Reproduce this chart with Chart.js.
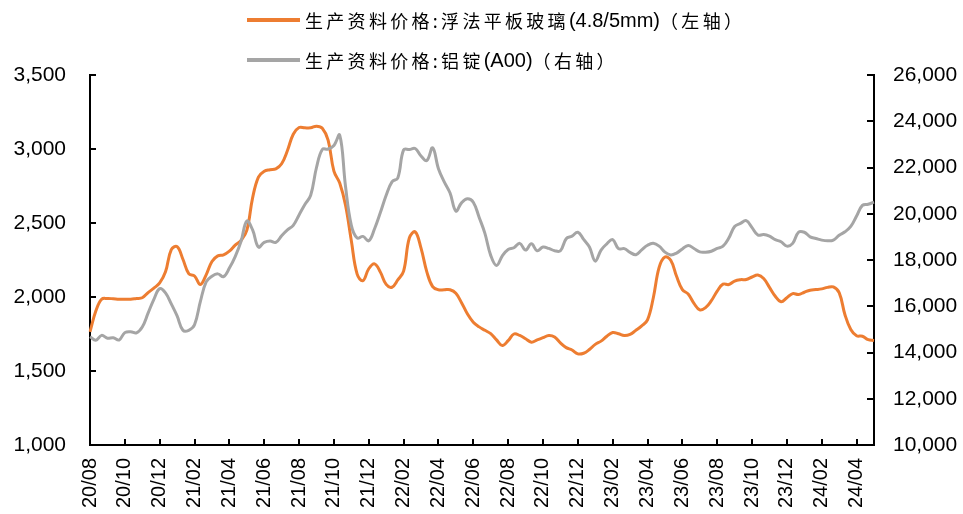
<!DOCTYPE html>
<html>
<head>
<meta charset="utf-8">
<title>浮法平板玻璃与铝锭价格</title>
<script src="https://cdn.jsdelivr.net/npm/chart.js@4.4.1/dist/chart.umd.min.js"></script>
<style>
  body { margin: 0; background: #fff; }
  #wrap { position: relative; width: 963px; height: 514px; }
  .legend-row { position: absolute; left: 247px; height: 24px; display: flex; align-items: center; white-space: nowrap; color: #000; }
  .legend-row .swatch { width: 53px; height: 4px; margin-right: 5px; }
  .cjk { font-family: "Noto Sans CJK SC"; font-size: 18px; letter-spacing: 3.3px; }
  .lat { font-family: "Liberation Sans", Arial, sans-serif; font-size: 20px; }
</style>
</head>
<body>
<div id="wrap">
  <canvas id="myChart"></canvas>
  <div class="legend-row" style="top: 8px;">
    <span class="swatch" style="background:#ED7D31"></span>
    <span class="cjk">生产资料价格:浮法平板玻璃</span><span class="lat">(4.8/5mm)</span><span class="cjk">（左轴）</span>
  </div>
  <div class="legend-row" style="top: 48px;">
    <span class="swatch" style="background:#A5A5A5"></span>
    <span class="cjk">生产资料价格:铝锭</span><span class="lat">(A00)</span><span class="cjk">（右轴）</span>
  </div>
</div>
<script>
// ten-day periods (上旬/中旬/下旬), 2020-08上旬 .. 2024-05上旬
var xunNames = ['上旬', '中旬', '下旬'];
var lastPeriod = '2024-05上旬';
var periods = [];
(function () {
  var y = 2020, m = 8;
  while (true) {
    for (var k = 0; k < 3; k++) {
      var p = y + '-' + (m < 10 ? '0' + m : m) + xunNames[k];
      periods.push(p);
      if (p === lastPeriod) return;
    }
    m++;
    if (m > 12) { m = 1; y++; }
  }
})();

// x axis labels shown (every two months)
var monthTickLabels = ['20/08', '20/10', '20/12', '21/02', '21/04', '21/06', '21/08', '21/10', '21/12',
  '22/02', '22/04', '22/06', '22/08', '22/10', '22/12', '23/02', '23/04', '23/06', '23/08',
  '23/10', '23/12', '24/02', '24/04'];

var leftTicks = [1000, 1500, 2000, 2500, 3000, 3500];
var rightTicks = [10000, 12000, 14000, 16000, 18000, 20000, 22000, 24000, 26000];

// 生产资料价格:浮法平板玻璃(4.8/5mm), 元/吨 (left axis)
var glassPrice = [
  1765, 1905, 1985, 1990, 1988, 1985, 1985, 1985, 1990, 1995,
  2030, 2060, 2095, 2170, 2320, 2340, 2255, 2158, 2142, 2084,
  2150, 2240, 2278, 2285, 2310, 2350, 2382, 2450, 2670, 2810,
  2850, 2860, 2866, 2900, 2990, 3100, 3145, 3143, 3143, 3154,
  3140, 3060, 2850, 2770, 2620, 2380, 2155, 2110, 2191, 2224,
  2168, 2085, 2066, 2115, 2175, 2400, 2440, 2330, 2170, 2070,
  2049, 2049, 2049, 2025, 1960, 1885, 1830, 1798, 1775, 1752,
  1710, 1672, 1705, 1750, 1740, 1718, 1695, 1710, 1725, 1740,
  1730, 1690, 1658, 1642, 1616, 1620, 1645, 1680, 1702, 1735,
  1760, 1752, 1740, 1748, 1775, 1805, 1845, 1995, 2200, 2270,
  2248, 2140, 2050, 2020, 1957, 1913, 1928, 1975, 2040, 2087,
  2084, 2108, 2117, 2118, 2135, 2148, 2125, 2065, 2005, 1968,
  1995, 2023, 2017, 2032, 2046, 2050, 2055, 2065, 2068, 2030,
  1880, 1780, 1738, 1735, 1712, 1706, 1706
];

// 生产资料价格:铝锭(A00), 元/吨 (right axis)
var aluminumPrice = [
  14680, 14530, 14740, 14620, 14640, 14540, 14860, 14900, 14850, 15100,
  15700, 16300, 16760, 16580, 16100, 15580, 14960, 14960, 15200, 16200,
  17050, 17300, 17400, 17280, 17650, 18150, 18800, 19680, 19300, 18560,
  18760, 18820, 18760, 19050, 19300, 19500, 19950, 20400, 20800, 22000,
  22780, 22800, 22950, 23400, 21180, 19500, 18950, 19020, 18830, 19350,
  20050, 20800, 21380, 21550, 22760, 22780, 22820, 22500, 22300, 22850,
  21950, 21380, 20900, 20120, 20480, 20650, 20500, 19850, 19150, 18200,
  17760, 18180, 18450, 18530, 18720, 18430, 18700, 18400, 18560, 18500,
  18400, 18400, 18920, 19030, 19200, 18890, 18560, 17950, 18430, 18700,
  18880, 18490, 18490, 18330, 18230, 18440, 18640, 18720, 18600, 18340,
  18220, 18300, 18480, 18630, 18500, 18350, 18340, 18380, 18500, 18600,
  18950, 19450, 19580, 19700, 19400, 19080, 19100, 19030, 18880, 18790,
  18600, 18720, 19200, 19200, 19000, 18930, 18860, 18830, 18860, 19070,
  19220, 19450, 19900, 20360, 20410, 20500, 20620
];

function periodToTick(p) {
  if (p.slice(7) !== '上旬') return null;
  var lab = p.slice(2, 4) + '/' + p.slice(5, 7);
  return monthTickLabels.indexOf(lab) >= 0 ? lab : null;
}

var tickFont = { family: '"Liberation Sans", Arial, sans-serif', size: 21 };

function displayChart() {
  var ctx = document.getElementById('myChart').getContext('2d');
  var myChart = new Chart(ctx, {
    type: 'line',
    data: {
      labels: periods,
      datasets: [{
        label: '生产资料价格:浮法平板玻璃(4.8/5mm)（左轴）',
        data: glassPrice,
        yAxisID: 'yL',
        borderColor: '#ED7D31',
        borderWidth: 3,
        pointRadius: 0,
        tension: 0.4,
        order: 1
      }, {
        label: '生产资料价格:铝锭(A00)（右轴）',
        data: aluminumPrice,
        yAxisID: 'yR',
        borderColor: '#A5A5A5',
        borderWidth: 3,
        pointRadius: 0,
        tension: 0.4,
        order: 0
      }]
    },
    options: {
      responsive: true,
      maintainAspectRatio: false,
      animation: false,
      layout: { padding: { top: 75, left: 0, right: 0, bottom: 0 } },
      plugins: {
        legend: { display: false },
        tooltip: { enabled: false }
      },
      scales: {
        x: {
          type: 'category',
          offset: false,
          grid: {
            drawOnChartArea: false,
            drawTicks: true,
            tickLength: -6,
            lineWidth: 2,
            color: function (c) { return (c.tick && c.tick.label) ? '#000' : 'rgba(0,0,0,0)'; }
          },
          border: { display: true, color: '#000', width: 2 },
          ticks: {
            autoSkip: false,
            minRotation: 90,
            maxRotation: 90,
            padding: 19,
            color: '#000',
            font: { family: '"Liberation Sans", Arial, sans-serif', size: 20 },
            callback: function (value) { return periodToTick(this.getLabelForValue(value)); }
          },
          afterFit: function (scale) { scale.height = 69; }
        },
        yL: {
          position: 'left',
          min: leftTicks[0],
          max: leftTicks[leftTicks.length - 1],
          afterBuildTicks: function (scale) { scale.ticks = leftTicks.map(function (v) { return { value: v }; }); },
          grid: { drawOnChartArea: false, drawTicks: true, tickLength: -6, lineWidth: 2, color: '#000' },
          border: { display: true, color: '#000', width: 2 },
          ticks: {
            padding: 30,
            color: '#000',
            font: tickFont,
            callback: function (v) { return v.toLocaleString('en-US'); }
          },
          afterFit: function (scale) { scale.width = 90; }
        },
        yR: {
          position: 'right',
          min: rightTicks[0],
          max: rightTicks[rightTicks.length - 1],
          afterBuildTicks: function (scale) { scale.ticks = rightTicks.map(function (v) { return { value: v }; }); },
          grid: { drawOnChartArea: false, drawTicks: true, tickLength: -7, lineWidth: 2, color: '#000' },
          border: { display: true, color: '#000', width: 2 },
          ticks: {
            padding: 26,
            color: '#000',
            font: tickFont,
            callback: function (v) { return v.toLocaleString('en-US'); }
          },
          afterFit: function (scale) { scale.width = 89; }
        }
      }
    }
  });
}

displayChart();
</script>
</body>
</html>
